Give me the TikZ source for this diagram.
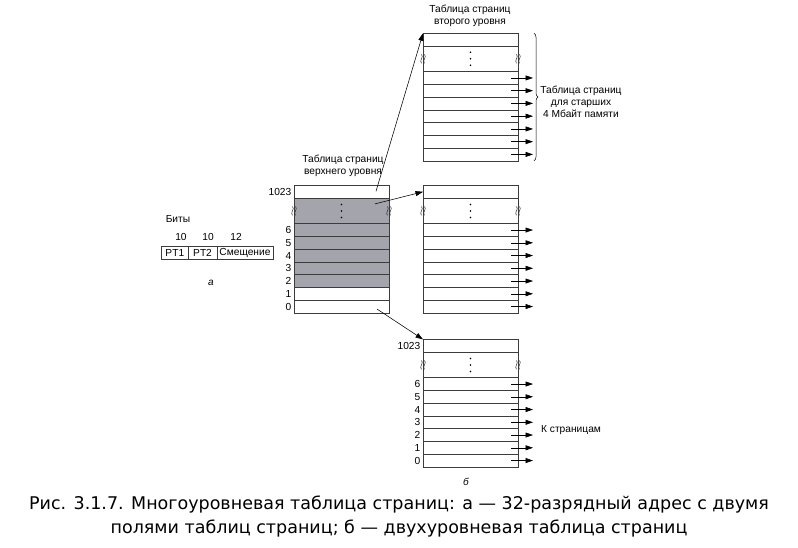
\documentclass[tikz,border=0pt]{standalone}
\usepackage{fontspec}
\setmainfont{Liberation Sans}
\newfontfamily\capfont{DejaVu Sans}
\usetikzlibrary{arrows.meta,decorations.pathreplacing}
\definecolor{tblgray}{RGB}{164,164,172}
\definecolor{linegray}{RGB}{60,60,60}

\newcommand\squig[1]{%
  \begin{scope}[shift={(#1)}]
    \foreach \dx in {-1.5,1.5}
      \draw[brkline] (\dx,-4.5) .. controls (\dx+2.8,-1.8) and (\dx-2.8,1.8) .. (\dx,4.5);
  \end{scope}}

\newcommand\ptable[4]{%
  \node[cell] (#1-9) at (#2,#3) {};
  \node[#4, minimum height=25.5pt] (#1-d) at (#1-9.south west) {};
  \node[#4] (#1-6) at (#1-d.south west) {};
  \node[#4] (#1-5) at (#1-6.south west) {};
  \node[#4] (#1-4) at (#1-5.south west) {};
  \node[#4] (#1-3) at (#1-4.south west) {};
  \node[#4] (#1-2) at (#1-3.south west) {};
  \node[cell] (#1-1) at (#1-2.south west) {};
  \node[cell] (#1-0) at (#1-1.south west) {};
  \foreach \k in {-6.5,0,6.5} \fill ([yshift=\k pt]#1-d.center) circle (0.85pt);
  \squig{#1-d.west}
  \squig{#1-d.east}
}

\begin{document}
\begin{tikzpicture}[x=1pt,y=-1pt,
  cell/.style={draw=linegray, line width=0.55pt, minimum width=95pt, minimum height=12.75pt,
               inner sep=0pt, outer sep=0pt, anchor=north west},
  gcell/.style={cell, fill=tblgray},
  lbl/.style={font=\fontsize{10.2}{11.8}\selectfont, inner sep=0pt, align=center},
  num/.style={lbl, anchor=east},
  fld/.style={draw=linegray, line width=0.55pt, minimum height=13pt, inner sep=0pt,
              outer sep=0pt, anchor=north west, font=\fontsize{10.2}{11.8}\selectfont},
  conn/.style={-{Triangle[length=7.5pt,width=5pt]}, line width=0.55pt, black},
  brkline/.style={line width=0.5pt, black!85},
]
\useasboundingbox (0,0) rectangle (798,547);

% tables
\ptable{A}{294}{185.4}{gcell}
\ptable{B}{423}{33.3}{cell}
\ptable{C}{423}{185.4}{cell}
\ptable{D}{423}{339.4}{cell}

% row numbers
\node[num] at ([xshift=-2.5pt]A-9.west) {1023};
\node[num] at ([xshift=-2.5pt]D-9.west) {1023};
\foreach \i in {6,...,0} {
  \node[num] at ([xshift=-2.5pt]A-\i.west) {\i};
  \node[num] at ([xshift=-2.5pt]D-\i.west) {\i};
}

% outgoing arrows
\foreach \t in {B,C,D}
  \foreach \i in {6,...,0}
    \draw[conn] ([xshift=-7pt]\t-\i.east) -- ([xshift=15pt]\t-\i.east);

% connectors between tables
\draw[conn] ([xshift=-13pt,yshift=0.5pt]A-9.east) -- (B-9.north west);
\draw[conn] ([xshift=-14pt,yshift=7pt]A-d.east) -- (C-9.west);
\draw[conn] ([xshift=-12pt,yshift=-2.5pt]A-0.east) -- (D-9.north west);

% brace
\draw[decorate, decoration={brace, amplitude=4pt}, line width=0.5pt]
  ([xshift=16pt]B-9.north east) -- ([xshift=16pt]B-0.south east);

% labels
\node[lbl] (lB) at (470,16) {Таблица страниц\\второго уровня};
\node[lbl] (lA) at (343,166) {Таблица страниц\\верхнего уровня};
\node[lbl] (lR) at (581,102) {Таблица страниц\\для старших\\4 Мбайт памяти};
\node[lbl, anchor=west] (lK) at (541,430) {К страницам};

% address fields
\node[lbl] (bits) at (178,219) {Биты};
\node[fld, minimum width=26.7pt] (f1) at (161.5,246.5) {PT1};
\node[fld, minimum width=28.7pt] (f2) at (f1.north east) {PT2};
\node[fld, minimum width=56.1pt] (f3) at (f2.north east) {Смещение};
\node[lbl] (n1) at (181,237) {10};
\node[lbl] (n2) at (208,237) {10};
\node[lbl] (n3) at (236,237) {12};
\node[lbl, font=\fontsize{10}{11.5}\selectfont\itshape] (la) at (211,283) {а};
\node[lbl, font=\fontsize{10}{11.5}\selectfont\itshape] (lb) at (466,482) {б};

% caption
\node[font=\capfont\fontsize{17.5}{20}\selectfont, inner sep=0pt] (cap1) at (399,505)
  {Рис. 3.1.7. Многоуровневая таблица страниц: а — 32-разрядный адрес с двумя};
\node[font=\capfont\fontsize{17.5}{20}\selectfont, inner sep=0pt] (cap2) at (399,529)
  {полями таблиц страниц; б — двухуровневая таблица страниц};
\end{tikzpicture}
\end{document}
